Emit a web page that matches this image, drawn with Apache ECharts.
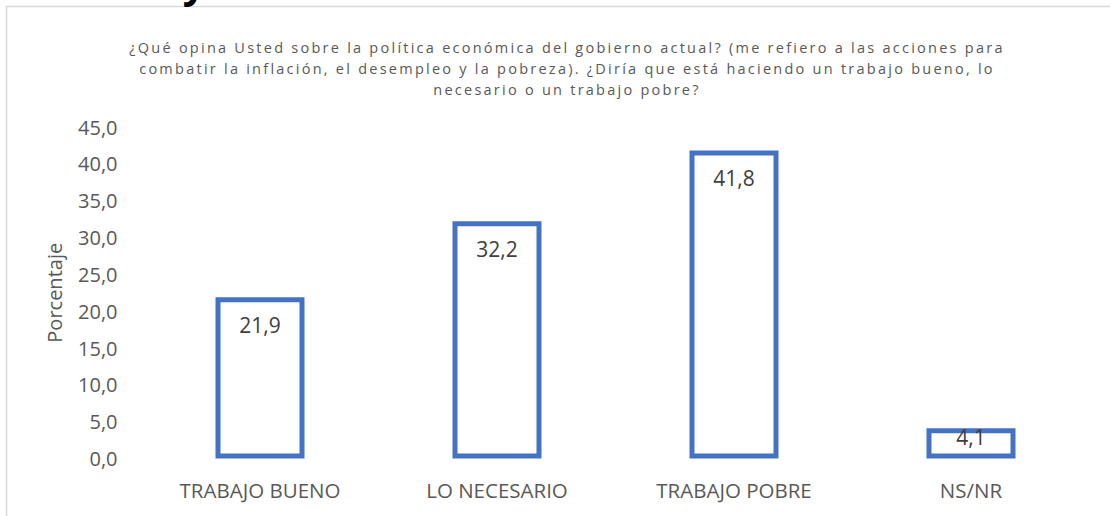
<!DOCTYPE html>
<html>
<head>
<meta charset="utf-8">
<script src="https://cdn.jsdelivr.net/npm/echarts@6/dist/echarts.min.js"></script>
<style>
html,body{margin:0;padding:0;background:#fff;}
#chart{width:1110px;height:516px;}
</style>
</head>
<body>
<div id="chart"></div>
<script>
var categories = ['TRABAJO BUENO', 'LO NECESARIO', 'TRABAJO POBRE', 'NS/NR'];
var values = [21.9, 32.2, 41.8, 4.1];
var titleLines = [
  '¿Qué opina Usted sobre la política económica del gobierno actual? (me refiero a las acciones para',
  'combatir la inflación, el desempleo y la pobreza). ¿Diría que está haciendo un trabajo bueno, lo',
  'necesario o un trabajo pobre?'
];
var yAxisName = 'Porcentaje';

var FONT = '"Open Sans", sans-serif';
var chart = echarts.init(document.getElementById('chart'), null, {renderer: 'svg'});

var data = values.map(function (v, i) {
  var item = {value: v};
  if (v < 8) {
    item.label = {distance: -2};
  }
  return item;
});

chart.setOption({
  animation: false,
  backgroundColor: '#ffffff',
  title: {
    text: titleLines.join('\n'),
    left: 562,
    top: 32,
    textAlign: 'center',
    textStyle: {
      fontFamily: FONT,
      fontSize: 14.5,
      fontWeight: 'normal',
      color: '#595959',
      lineHeight: 21
    }
  },
  graphic: [
    {
      type: 'rect',
      shape: {x: 6.5, y: 6.5, width: 1200, height: 600},
      style: {fill: 'none', stroke: '#d9d9d9', lineWidth: 1.5},
      silent: true
    },
    {
      type: 'text',
      x: 194,
      y: 2,
      style: {text: 'y', font: 'bold 40px ' + FONT, fill: '#000', align: 'center', verticalAlign: 'bottom'},
      silent: true
    }
  ],
  grid: {left: 141.5, right: 20.5, top: 127, bottom: 57.5},
  xAxis: {
    type: 'category',
    data: categories,
    axisLine: {show: false},
    axisTick: {show: false},
    axisLabel: {fontFamily: FONT, fontSize: 20.5, color: '#595959', margin: 21}
  },
  yAxis: {
    type: 'value',
    min: 0,
    max: 45,
    interval: 5,
    name: yAxisName,
    nameLocation: 'middle',
    nameGap: 77,
    nameTextStyle: {fontFamily: FONT, fontSize: 20, color: '#595959'},
    splitLine: {show: false},
    axisLine: {show: false},
    axisTick: {show: false},
    axisLabel: {
      fontFamily: FONT, fontSize: 20, color: '#595959', margin: 24,
      formatter: function (v) { return v.toFixed(1).replace('.', ','); }
    }
  },
  series: [{
    type: 'bar',
    data: data,
    barWidth: 89,
    itemStyle: {color: '#ffffff', borderColor: '#4472C4', borderWidth: 5},
    label: {
      show: true,
      position: 'insideTop',
      distance: 17,
      fontFamily: FONT,
      fontSize: 21,
      color: '#404040',
      formatter: function (p) { return p.value.toFixed(1).replace('.', ','); }
    }
  }]
});

function spaceTitle() {
  var texts = document.querySelectorAll('#chart text');
  texts.forEach(function (t) {
    var c = (t.textContent || '').trim();
    if (titleLines.indexOf(c) >= 0) {
      t.style.letterSpacing = '2.25px';
    }
  });
}
spaceTitle();
chart.on('finished', spaceTitle);
setTimeout(spaceTitle, 50);
</script>
</body>
</html>
